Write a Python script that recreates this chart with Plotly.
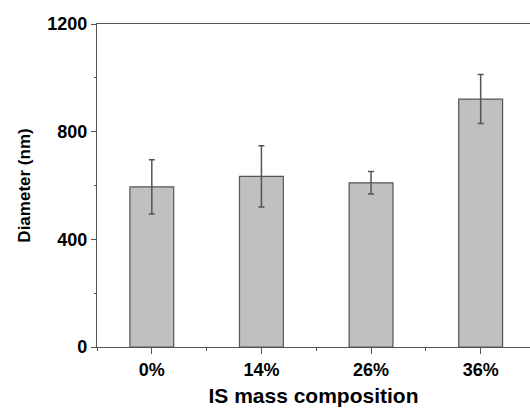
import plotly.graph_objects as go

categories = ["0%", "14%", "26%", "36%"]
diameter = [595, 634, 610, 921]
error = [101, 114, 42, 91]
y_ticks = [0, 400, 800, 1200]

x_pos = list(range(len(categories)))
axis_col = "#555555"
font_fam = "Liberation Sans, Arial, sans-serif"

fig = go.Figure()
fig.add_trace(go.Bar(
    x=x_pos, y=diameter, width=0.4,
    marker=dict(color="#c0c0c0", line=dict(color=axis_col, width=1.2)),
    error_y=dict(type="data", array=error, visible=True, color=axis_col,
                 thickness=1.5, width=3),
))

fig.update_layout(
    width=530, height=408,
    margin=dict(l=97, r=0, t=24, b=61),
    plot_bgcolor="white", paper_bgcolor="white",
    showlegend=False,
    font=dict(family=font_fam, color="black"),
    xaxis=dict(
        range=[-0.5, 3.45], tickmode="array", tickvals=x_pos, ticktext=categories,
        showline=True, linecolor=axis_col, linewidth=1.2, mirror=True,
        ticks="outside", ticklen=6, tickcolor=axis_col, tickwidth=1,
        showgrid=False, zeroline=False,
        tickfont=dict(size=18, family=font_fam, weight="bold"),
        minor=dict(tick0=0.5, dtick=1, ticks="outside", ticklen=3, tickcolor=axis_col, showgrid=False),
        title=dict(text="<b>IS mass composition</b>", font=dict(size=21), standoff=9),
    ),
    yaxis=dict(
        range=[0, 1200], tickmode="array", tickvals=y_ticks,
        showline=True, linecolor=axis_col, linewidth=1.2, mirror=False,
        ticks="outside", ticklen=5, tickcolor=axis_col, tickwidth=1,
        showgrid=False, zeroline=False,
        tickfont=dict(size=18, family=font_fam, weight="bold"),
        minor=dict(tick0=200, dtick=400, ticks="outside", ticklen=2, tickcolor=axis_col, showgrid=False),
        title=dict(text="<b>Diameter (nm)</b>", font=dict(size=17), standoff=12),
    ),
)

fig.write_html("out.html")
